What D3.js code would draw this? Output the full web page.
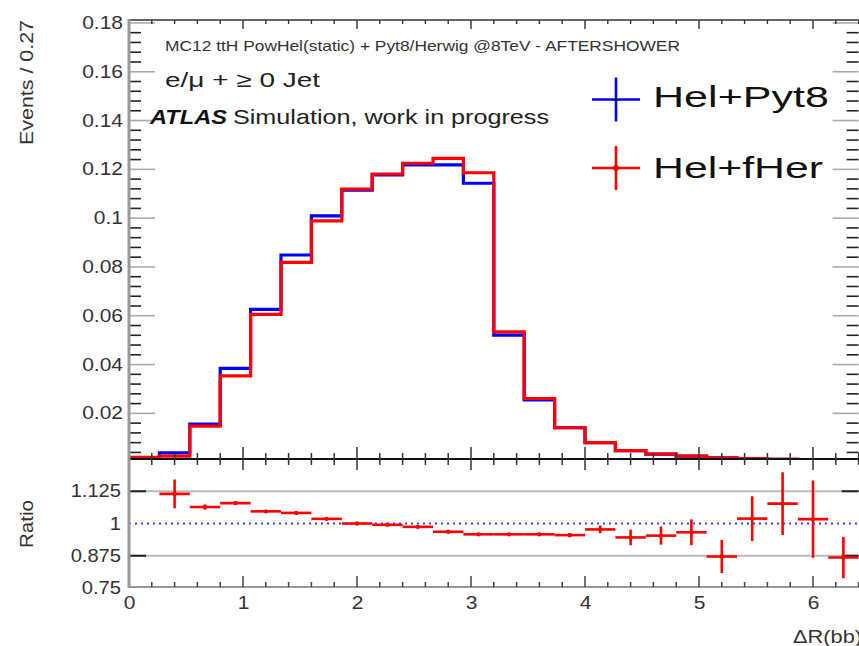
<!DOCTYPE html>
<html>
<head>
<meta charset="utf-8">
<script src="https://cdn.jsdelivr.net/npm/d3@7"></script>
<style>
  body { margin: 0; background: #fff; }
  svg { display: block; }
  text { font-family: "Liberation Sans", Arial, Helvetica, sans-serif; }
</style>
</head>
<body>
<svg width="859" height="646"></svg>
<script>
// binning: 24 bins over 0..6.4 ("Events / 0.27")
const binRange = [0, 6.4];
const nBins = 24;

// normalised histograms (one value per bin)
const helPyt8 = [0.0015, 0.0038, 0.0156, 0.0384, 0.0626, 0.0849, 0.1009, 0.1115,
                 0.1177, 0.1218, 0.1218, 0.1143, 0.0521, 0.0255, 0.0141, 0.0080,
                 0.0047, 0.0033, 0.0025, 0.0018, 0.0015, 0.0012, 0.0010, 0.0008];
const helFHer = [0.0020, 0.0025, 0.0148, 0.0354, 0.0606, 0.0819, 0.0989, 0.1119,
                 0.1181, 0.1225, 0.1245, 0.1186, 0.0534, 0.0261, 0.0141, 0.0080,
                 0.0047, 0.0033, 0.0025, 0.0018, 0.0015, 0.0012, 0.0010, 0.0008];

// ratio panel points (null = no point)
const ratioVal = [null, 1.115, 1.064, 1.079, 1.047, 1.041, 1.018, 1.000,
                  0.995, 0.987, 0.968, 0.958, 0.958, 0.958, 0.955, 0.977,
                  0.946, 0.953, 0.966, 0.872, 1.019, 1.077, 1.017, 0.868];
const ratioErr = [null, 0.056, 0.010, 0.007, 0.005, 0.005, 0.004, 0.004,
                  0.004, 0.004, 0.004, 0.004, 0.005, 0.006, 0.008, 0.015,
                  0.030, 0.035, 0.050, 0.064, 0.087, 0.122, 0.150, 0.080];

// axis ticks
const xTicks = [0, 1, 2, 3, 4, 5, 6];
const yTicksTop = [0.02, 0.04, 0.06, 0.08, 0.1, 0.12, 0.14, 0.16, 0.18];
const yLabelsTop = ["0.02", "0.04", "0.06", "0.08", "0.1", "0.12", "0.14", "0.16", "0.18"];
const yTicksRatio = [0.75, 0.875, 1, 1.125];
const yLabelsRatio = ["0.75", "0.875", "1", "1.125"];

const svg = d3.select("svg");

const x = d3.scaleLinear().domain(binRange).range([129, 858.6]);
const yTop = d3.scaleLinear().domain([0.0013, 0.1812]).range([459, 20]);
const yRat = d3.scaleLinear().domain([0.75, 1.25]).range([588, 459]);

const edges = d3.range(nBins + 1).map(i => binRange[0] + i * (binRange[1] - binRange[0]) / nBins);
const X0 = x.range()[0], X1 = x.range()[1];

const defs = svg.append("defs");
defs.append("clipPath").attr("id", "clipTop").append("rect")
  .attr("x", X0).attr("y", 20).attr("width", X1 - X0).attr("height", 459 - 20);
defs.append("clipPath").attr("id", "clipRat").append("rect")
  .attr("x", X0).attr("y", 459).attr("width", X1 - X0).attr("height", 588 - 459);

// minor x ticks every 0.2
const xMinor = d3.range(0, 6.41, 0.2).filter(v => Math.abs(v - Math.round(v)) > 0.01);

// ---------- upper panel ticks ----------
const yMinorTop = d3.range(0.004, 0.1801, 0.004).filter(v => Math.abs(v / 0.02 - Math.round(v / 0.02)) > 0.01);
const gTop = svg.append("g");
gTop.selectAll("line.minL").data(yMinorTop).enter().append("line")
  .attr("x1", X0).attr("x2", X0 + 12).attr("y1", d => yTop(d)).attr("y2", d => yTop(d))
  .attr("stroke", "#222").attr("stroke-width", 1.6);
gTop.selectAll("line.minR").data(yMinorTop).enter().append("line")
  .attr("x1", X1).attr("x2", X1 - 12).attr("y1", d => yTop(d)).attr("y2", d => yTop(d))
  .attr("stroke", "#222").attr("stroke-width", 1.6);
gTop.selectAll("line.majL").data(yTicksTop).enter().append("line")
  .attr("x1", X0).attr("x2", X0 + 26).attr("y1", d => yTop(d)).attr("y2", d => yTop(d))
  .attr("stroke", "#aaa").attr("stroke-width", 1.6);
gTop.selectAll("line.majR").data(yTicksTop).enter().append("line")
  .attr("x1", X1).attr("x2", X1 - 26).attr("y1", d => yTop(d)).attr("y2", d => yTop(d))
  .attr("stroke", "#aaa").attr("stroke-width", 1.6);

// top frame + its ticks
gTop.append("line").attr("x1", X0).attr("x2", X1).attr("y1", 20).attr("y2", 20)
  .attr("stroke", "#333").attr("stroke-width", 1.6);
gTop.selectAll("line.tmaj").data(xTicks).enter().append("line")
  .attr("x1", d => x(d)).attr("x2", d => x(d)).attr("y1", 20).attr("y2", 29)
  .attr("stroke", "#333").attr("stroke-width", 1.4);
gTop.selectAll("line.tmin").data(xMinor).enter().append("line")
  .attr("x1", d => x(d)).attr("x2", d => x(d)).attr("y1", 20).attr("y2", 24)
  .attr("stroke", "#333").attr("stroke-width", 1.4);

// ---------- histograms ----------
const step = d3.line().x(d => x(d[0])).y(d => yTop(d[1])).curve(d3.curveStepAfter);
function histPoints(vals) {
  const pts = [[edges[0], yTop.domain()[0]]];
  edges.forEach((e, i) => pts.push([e, vals[Math.min(i, vals.length - 1)]]));
  return pts;
}
const gHist = svg.append("g").attr("clip-path", "url(#clipTop)");
gHist.append("path").attr("d", step(histPoints(helPyt8)))
  .attr("fill", "none").attr("stroke", "#0000ff").attr("stroke-width", 3.2);
gHist.append("path").attr("d", step(histPoints(helFHer)))
  .attr("fill", "none").attr("stroke", "#ff0000").attr("stroke-width", 3.2);

// x axis between the panels, ticks on both sides
svg.append("line").attr("x1", X0).attr("x2", X1).attr("y1", 459).attr("y2", 459)
  .attr("stroke", "#111").attr("stroke-width", 2);
svg.selectAll("line.mx").data(xTicks).enter().append("line")
  .attr("x1", d => x(d)).attr("x2", d => x(d)).attr("y1", 447).attr("y2", 470)
  .attr("stroke", "#333").attr("stroke-width", 1.5);
svg.selectAll("line.nx").data(xMinor).enter().append("line")
  .attr("x1", d => x(d)).attr("x2", d => x(d)).attr("y1", 453).attr("y2", 465)
  .attr("stroke", "#333").attr("stroke-width", 1.5);

// ---------- ratio panel ----------
const gRat = svg.append("g");
gRat.selectAll("line.grid").data([0.875, 1.125]).enter().append("line")
  .attr("x1", X0).attr("x2", X1).attr("y1", d => yRat(d)).attr("y2", d => yRat(d))
  .attr("stroke", "#bbb").attr("stroke-width", 2);
gRat.selectAll("line.rt").data([0.875, 1.125]).enter().append("line")
  .attr("x1", X0).attr("x2", X0 + 17).attr("y1", d => yRat(d)).attr("y2", d => yRat(d))
  .attr("stroke", "#222").attr("stroke-width", 2);
gRat.selectAll("line.rtr").data([0.875, 1.125]).enter().append("line")
  .attr("x1", X1).attr("x2", X1 - 17).attr("y1", d => yRat(d)).attr("y2", d => yRat(d))
  .attr("stroke", "#222").attr("stroke-width", 2);
gRat.append("line").attr("x1", X0).attr("x2", X1).attr("y1", yRat(1)).attr("y2", yRat(1))
  .attr("stroke", "#3a3aff").attr("stroke-width", 2).attr("stroke-dasharray", "2,4");

const pts = ratioVal.map((v, i) => ({ v, e: ratioErr[i], lo: edges[i], hi: edges[i + 1] }))
  .filter(d => d.v !== null);
const gPts = svg.append("g").attr("clip-path", "url(#clipRat)")
  .attr("stroke", "#ff0000").attr("stroke-width", 2.6);
gPts.selectAll("line.h").data(pts).enter().append("line")
  .attr("x1", d => x(d.lo)).attr("x2", d => x(d.hi))
  .attr("y1", d => yRat(d.v)).attr("y2", d => yRat(d.v));
gPts.selectAll("line.v").data(pts).enter().append("line")
  .attr("x1", d => x((d.lo + d.hi) / 2)).attr("x2", d => x((d.lo + d.hi) / 2))
  .attr("y1", d => yRat(d.v - d.e)).attr("y2", d => yRat(d.v + d.e));
gPts.selectAll("circle").data(pts).enter().append("circle")
  .attr("cx", d => x((d.lo + d.hi) / 2)).attr("cy", d => yRat(d.v)).attr("r", 2.2)
  .attr("fill", "#ff0000").attr("stroke", "none");

// bottom x axis
svg.append("line").attr("x1", X0).attr("x2", X1).attr("y1", 587).attr("y2", 587)
  .attr("stroke", "#999").attr("stroke-width", 2);
svg.selectAll("line.bx").data(xTicks).enter().append("line")
  .attr("x1", d => x(d)).attr("x2", d => x(d)).attr("y1", 576).attr("y2", 587)
  .attr("stroke", "#444").attr("stroke-width", 1.5);
svg.selectAll("line.bn").data(xMinor).enter().append("line")
  .attr("x1", d => x(d)).attr("x2", d => x(d)).attr("y1", 582).attr("y2", 587)
  .attr("stroke", "#444").attr("stroke-width", 1.5);

// left axis line (both panels)
svg.append("line").attr("x1", X0).attr("x2", X0).attr("y1", 19).attr("y2", 588)
  .attr("stroke", "#999").attr("stroke-width", 3);

// ---------- tick labels via d3 axes ----------
function styleLabels(g, sx) {
  g.select(".domain").remove();
  g.selectAll(".tick line").remove();
  g.selectAll(".tick text")
    .attr("transform", `scale(${sx},1)`)
    .attr("font-size", 17.5).attr("fill", "#333")
    .attr("font-family", '"Liberation Sans", Arial, sans-serif');
}
svg.append("g").attr("transform", `translate(${X0},0)`)
  .call(d3.axisLeft(yTop).tickValues(yTicksTop).tickFormat((d, i) => yLabelsTop[i]).tickSize(0).tickPadding(5))
  .call(g => styleLabels(g, 1.2));
svg.append("g").attr("transform", `translate(${X0},0)`)
  .call(d3.axisLeft(yRat).tickValues(yTicksRatio).tickFormat((d, i) => yLabelsRatio[i]).tickSize(0).tickPadding(7))
  .call(g => styleLabels(g, 1.15));
svg.append("g").attr("transform", "translate(0,587)")
  .call(d3.axisBottom(x).tickValues(xTicks).tickFormat(d3.format("d")).tickSize(0).tickPadding(10))
  .call(g => styleLabels(g, 1.2));

// axis titles
svg.append("text").attr("transform", "translate(33,20) rotate(-90)")
  .attr("text-anchor", "end").attr("font-size", 17.5).attr("fill", "#333")
  .attr("textLength", 125).attr("lengthAdjust", "spacingAndGlyphs")
  .text("Events / 0.27");
svg.append("text").attr("transform", "translate(33,524) rotate(-90)")
  .attr("text-anchor", "middle").attr("font-size", 17.5).attr("fill", "#333")
  .attr("textLength", 48).attr("lengthAdjust", "spacingAndGlyphs")
  .text("Ratio");
svg.append("text").attr("x", 793).attr("y", 643)
  .attr("font-size", 17.5).attr("fill", "#333")
  .attr("textLength", 69).attr("lengthAdjust", "spacingAndGlyphs")
  .text("ΔR(bb)");

// ---------- labels inside the plot ----------
svg.append("text").attr("x", 165).attr("y", 51)
  .attr("font-size", 14.5).attr("fill", "#333")
  .attr("textLength", 515).attr("lengthAdjust", "spacingAndGlyphs")
  .text("MC12 ttH PowHel(static) + Pyt8/Herwig @8TeV - AFTERSHOWER");
svg.append("text").attr("x", 165).attr("y", 87)
  .attr("font-size", 21).attr("fill", "#222")
  .attr("textLength", 155).attr("lengthAdjust", "spacingAndGlyphs")
  .text("e/μ + ≥ 0 Jet");
svg.append("text").attr("x", 150).attr("y", 124)
  .attr("font-size", 21).attr("font-weight", "bold").attr("font-style", "italic").attr("fill", "#111")
  .attr("textLength", 77).attr("lengthAdjust", "spacingAndGlyphs")
  .text("ATLAS");
svg.append("text").attr("x", 233).attr("y", 124)
  .attr("font-size", 21).attr("fill", "#222")
  .attr("textLength", 316).attr("lengthAdjust", "spacingAndGlyphs")
  .text("Simulation, work in progress");

// legend
const legend = [
  { name: "Hel+Pyt8", color: "#0000ff", cy: 99.5, base: 107, len: 176, dot: "#000" },
  { name: "Hel+fHer", color: "#ff0000", cy: 168, base: 178, len: 170, dot: "#ff0000" }
];
const gLeg = svg.append("g");
legend.forEach(l => {
  gLeg.append("line").attr("x1", 592).attr("x2", 640).attr("y1", l.cy).attr("y2", l.cy)
    .attr("stroke", l.color).attr("stroke-width", 2.6);
  gLeg.append("line").attr("x1", 616).attr("x2", 616).attr("y1", l.cy - 22).attr("y2", l.cy + 22)
    .attr("stroke", l.color).attr("stroke-width", 2.6);
  gLeg.append("circle").attr("cx", 616).attr("cy", l.cy).attr("r", l.dot === "#000" ? 1.6 : 3)
    .attr("fill", l.dot);
  gLeg.append("text").attr("x", 653).attr("y", l.base)
    .attr("font-size", 30).attr("fill", "#111")
    .attr("textLength", l.len).attr("lengthAdjust", "spacingAndGlyphs")
    .text(l.name);
});
</script>
</body>
</html>
